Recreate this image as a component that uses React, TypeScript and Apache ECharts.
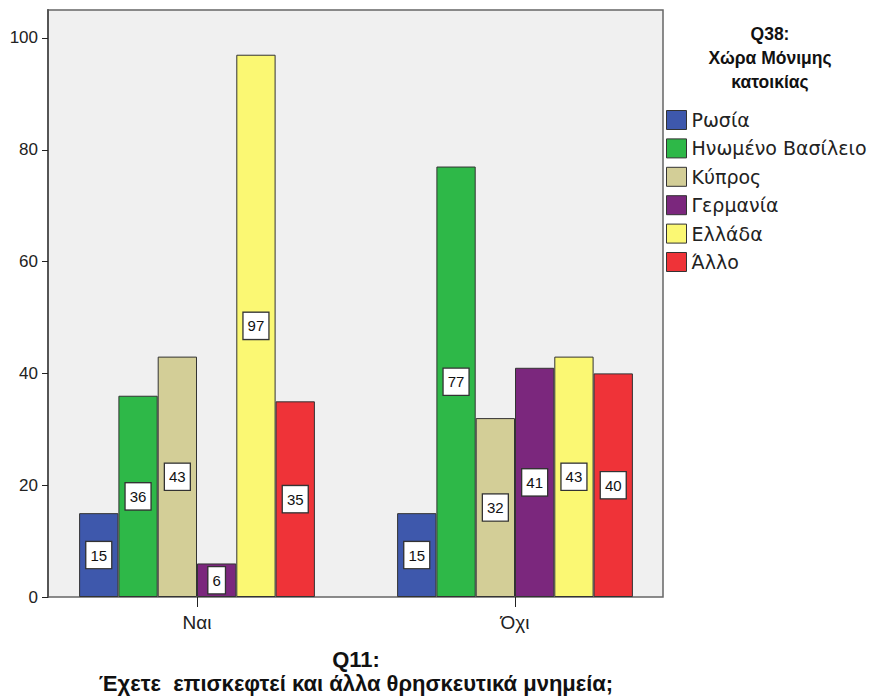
import React, { useEffect, useRef } from "react";
import * as echarts from "echarts";

const categories = ["Ναι", "Όχι"];
const seriesNames = ["Ρωσία", "Ηνωμένο Βασίλειο", "Κύπρος", "Γερμανία", "Ελλάδα", "Άλλο"];
const russia = [15, 15];
const uk = [36, 77];
const cyprus = [43, 32];
const germany = [6, 41];
const greece = [97, 43];
const other = [35, 40];
const colors = ["#3E58AC", "#2EB848", "#D3CE97", "#7B277D", "#FBF873", "#EF3338"];
const yTicks = [0, 20, 40, 60, 80, 100];
const legendTitle = "Q38:\nΧώρα Μόνιμης\nκατοικίας";
const xTitle = "Q11:\nΈχετε  επισκεφτεί και άλλα θρησκευτικά μνημεία;";

export default function App() {
  const ref = useRef<HTMLDivElement>(null);
  useEffect(() => {
    if (!ref.current) return;
    const chart = echarts.init(ref.current, null, { renderer: "svg" });
    const values = [russia, uk, cyprus, germany, greece, other];
    const font = "'Liberation Sans', Arial, sans-serif";
    chart.setOption({
      animation: false,
      textStyle: { fontFamily: font },
      grid: { left: 38, right: 199, top: 10, bottom: 101, containLabel: false },
      xAxis: {
        type: "category",
        data: categories,
        axisLine: { show: false },
        axisTick: { show: true, alignWithLabel: true, length: 10, lineStyle: { color: "#222", width: 1 } },
        axisLabel: { fontSize: 19, color: "#222", margin: 16, fontFamily: font },
        z: 5,
      },
      yAxis: {
        type: "value",
        min: 0,
        max: 105,
        interval: 20,
        offset: -10,
        splitLine: { show: false },
        axisLine: { show: true, lineStyle: { color: "#555", width: 2 } },
        axisTick: { show: true, length: 6, customValues: yTicks, lineStyle: { color: "#222" } },
        axisLabel: { fontSize: 17, color: "#222", margin: 10, customValues: yTicks, fontFamily: font },
        z: 5,
      },
      legend: {
        orient: "vertical",
        left: 666,
        top: 110,
        padding: 0,
        itemWidth: 20,
        itemHeight: 19,
        itemGap: 8.4,
        icon: "rect",
        data: seriesNames,
        itemStyle: { borderColor: "#333", borderWidth: 1 },
        textStyle: {
          fontSize: 19,
          lineHeight: 19,
          color: "#222",
          padding: [0, 0, 0, 0],
          fontFamily: "'DejaVu Sans', sans-serif",
        },
      },
      graphic: [
        {
          type: "rect",
          z: -10,
          shape: { x: 48, y: 10, width: 615, height: 587 },
          style: { fill: "#F0F0F0", stroke: "#666", lineWidth: 1.5 },
        },
        {
          type: "text",
          x: 770,
          y: 22,
          style: {
            text: legendTitle,
            textAlign: "center",
            font: "bold 17.5px 'Liberation Sans', Arial, sans-serif",
            lineHeight: 24,
            fill: "#111",
          },
        },
        {
          type: "text",
          x: 356,
          y: 647,
          style: {
            text: xTitle,
            textAlign: "center",
            font: "bold 22px 'Liberation Sans Narrow', 'Liberation Sans', Arial, sans-serif",
            lineHeight: 24,
            fill: "#111",
          },
        },
      ],
      series: seriesNames.map((name, i) => ({
        name,
        type: "bar",
        data: values[i],
        barWidth: 39.3,
        barGap: "0%",
        itemStyle: { color: colors[i], borderColor: "#333", borderWidth: 1 },
        label: {
          show: true,
          position: "inside",
          fontSize: 15,
          lineHeight: 15,
          color: "#111",
          backgroundColor: "#fff",
          borderColor: "#333",
          borderWidth: 1.3,
          padding: [6, 4, 5, 4],
          fontFamily: font,
        },
      })),
    });
    return () => chart.dispose();
  }, []);
  return <div ref={ref} style={{ position: "fixed", left: 0, top: 0, width: 873, height: 698, background: "#fff" }} />;
}
